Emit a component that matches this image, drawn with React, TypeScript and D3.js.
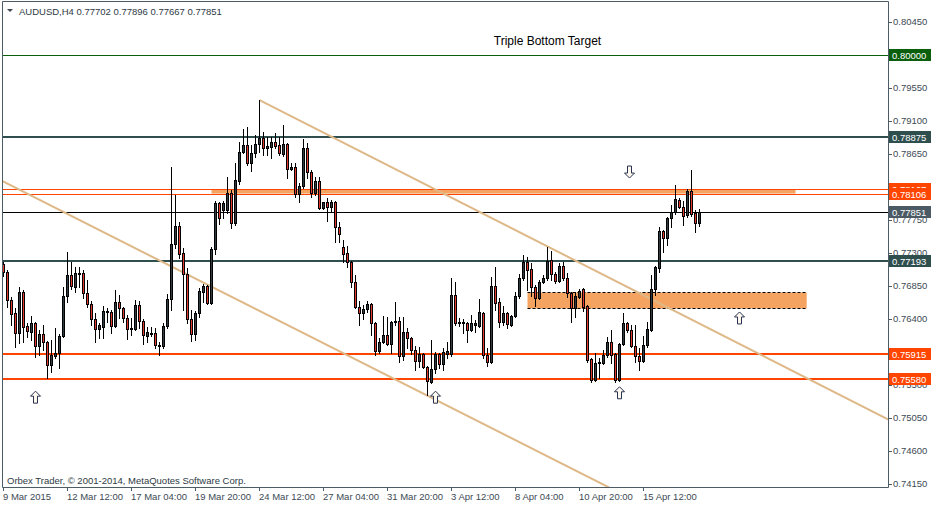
import { useRef, useEffect } from 'react';
import * as d3 from 'd3';

const symbol = 'AUDUSD,H4';
const lastQuote = ['0.77702', '0.77896', '0.77667', '0.77851'];
const copyright = 'Orbex Trader, © 2001-2014, MetaQuotes Software Corp.';
const noteText = 'Triple Bottom Target';

// H4 candles, oldest first (9 Mar 2015 20:00 ... 17 Apr 2015)
const opens = [
  0.7715, 0.7704, 0.7666, 0.7648, 0.7621, 0.7676, 0.763, 0.7622, 0.7634, 0.7603,
  0.7619, 0.7608, 0.7577, 0.7589, 0.7593, 0.7616, 0.7671, 0.77, 0.7683, 0.7701,
  0.7702, 0.7675, 0.766, 0.764, 0.7626, 0.7629, 0.7649, 0.7649, 0.763, 0.7663,
  0.7655, 0.7641, 0.7626, 0.7626, 0.7659, 0.7637, 0.7616, 0.7621, 0.7621, 0.7603,
  0.7603, 0.763, 0.7667, 0.7742, 0.7766, 0.773, 0.7701, 0.764, 0.7619, 0.7648,
  0.7676, 0.7685, 0.7661, 0.7735, 0.7798, 0.7788, 0.7788, 0.7811, 0.7771, 0.7828,
  0.7867, 0.7877, 0.7852, 0.7866, 0.7878, 0.7886, 0.7873, 0.7874, 0.7881, 0.7877,
  0.7865, 0.7878, 0.7844, 0.7847, 0.781, 0.7821, 0.7873, 0.784, 0.7811, 0.7828,
  0.7791, 0.7799, 0.7792, 0.7799, 0.7765, 0.7738, 0.773, 0.7717, 0.769, 0.7656,
  0.7648, 0.7653, 0.766, 0.7634, 0.7596, 0.7608, 0.7618, 0.7606, 0.7636, 0.7637,
  0.7589, 0.7622, 0.7614, 0.7597, 0.7582, 0.7592, 0.7574, 0.7554, 0.7571, 0.7592,
  0.7578, 0.7592, 0.7592, 0.7672, 0.7634, 0.7636, 0.7634, 0.7625, 0.7631, 0.763,
  0.7648, 0.7591, 0.7581, 0.7685, 0.7663, 0.7636, 0.7648, 0.7631, 0.7644, 0.7671,
  0.7696, 0.7717, 0.7708, 0.7683, 0.7668, 0.769, 0.7696, 0.772, 0.7701, 0.7691,
  0.7712, 0.7696, 0.7675, 0.7655, 0.767, 0.7681, 0.7657, 0.7585, 0.7556, 0.758,
  0.758, 0.7591, 0.7608, 0.7592, 0.7556, 0.7606, 0.7634, 0.7625, 0.7603, 0.7589,
  0.7582, 0.7604, 0.7625, 0.7681, 0.7709, 0.776, 0.775, 0.7777, 0.7786, 0.7802,
  0.7792, 0.7781, 0.7814, 0.7784, 0.77702,
];
const highs = [
  0.7717, 0.7706, 0.767, 0.7655, 0.7683, 0.7679, 0.7634, 0.7644, 0.7636, 0.7625,
  0.7631, 0.761, 0.7611, 0.7627, 0.7619, 0.7683, 0.7731, 0.7717, 0.7711, 0.7711,
  0.7706, 0.7693, 0.7664, 0.7648, 0.7634, 0.7657, 0.7655, 0.7652, 0.7679, 0.7672,
  0.7656, 0.7645, 0.7641, 0.7666, 0.7664, 0.764, 0.7629, 0.7629, 0.7627, 0.7608,
  0.7634, 0.7674, 0.7847, 0.7809, 0.7772, 0.7736, 0.7709, 0.7652, 0.7651, 0.7682,
  0.7687, 0.7686, 0.7738, 0.7801, 0.7799, 0.7801, 0.7833, 0.7816, 0.7852, 0.7881,
  0.7899, 0.7901, 0.7877, 0.7891, 0.7938, 0.7895, 0.7888, 0.7888, 0.7893, 0.7888,
  0.7904, 0.788, 0.7852, 0.7852, 0.7825, 0.7885, 0.788, 0.7843, 0.7833, 0.7833,
  0.7799, 0.7805, 0.7802, 0.7801, 0.7772, 0.7747, 0.7739, 0.7719, 0.77, 0.7664,
  0.7659, 0.7664, 0.7661, 0.7636, 0.7614, 0.7644, 0.7642, 0.7637, 0.7663, 0.7642,
  0.7642, 0.7627, 0.7615, 0.7603, 0.7601, 0.7593, 0.7576, 0.7611, 0.7595, 0.7593,
  0.76, 0.7608, 0.7696, 0.769, 0.7641, 0.764, 0.7636, 0.7645, 0.7638, 0.7667,
  0.7649, 0.76, 0.7697, 0.7711, 0.7668, 0.7657, 0.7649, 0.7645, 0.7676, 0.7701,
  0.7727, 0.7724, 0.7716, 0.7686, 0.7693, 0.77, 0.7738, 0.7732, 0.7704, 0.7716,
  0.7717, 0.7702, 0.7676, 0.7676, 0.7681, 0.7682, 0.7659, 0.7586, 0.7593, 0.7586,
  0.7597, 0.7615, 0.7625, 0.7593, 0.7607, 0.7648, 0.7636, 0.7631, 0.7631, 0.76,
  0.7616, 0.7636, 0.77, 0.7712, 0.7765, 0.7761, 0.7779, 0.7795, 0.7822, 0.7805,
  0.7801, 0.7817, 0.7843, 0.7788, 0.77896,
];
const lows = [
  0.7698, 0.7656, 0.7631, 0.7601, 0.7607, 0.7608, 0.7615, 0.7611, 0.7588, 0.7591,
  0.7597, 0.7559, 0.7567, 0.7586, 0.7573, 0.7615, 0.7663, 0.7681, 0.7676, 0.7683,
  0.7668, 0.7656, 0.7631, 0.7608, 0.7614, 0.7614, 0.7636, 0.7621, 0.7629, 0.7641,
  0.7636, 0.7612, 0.7618, 0.7625, 0.7627, 0.7606, 0.7608, 0.7616, 0.76, 0.7591,
  0.76, 0.7627, 0.7652, 0.7736, 0.7723, 0.7652, 0.7634, 0.761, 0.7611, 0.7642,
  0.7663, 0.766, 0.766, 0.7728, 0.7769, 0.7777, 0.7784, 0.7764, 0.7768, 0.7824,
  0.7866, 0.785, 0.7841, 0.7861, 0.7867, 0.7863, 0.7863, 0.7859, 0.7873, 0.7863,
  0.7862, 0.7832, 0.7843, 0.7806, 0.7799, 0.7818, 0.7832, 0.7806, 0.7809, 0.779,
  0.779, 0.7773, 0.7786, 0.7745, 0.7745, 0.7717, 0.7711, 0.7683, 0.7655, 0.7631,
  0.764, 0.7649, 0.7618, 0.7591, 0.7593, 0.7607, 0.7604, 0.7593, 0.7631, 0.7581,
  0.7584, 0.76, 0.7592, 0.757, 0.7574, 0.7573, 0.7536, 0.7552, 0.7566, 0.7573,
  0.757, 0.7586, 0.7589, 0.7631, 0.763, 0.7621, 0.7608, 0.7623, 0.7622, 0.7629,
  0.7586, 0.7576, 0.758, 0.7652, 0.7629, 0.7631, 0.7627, 0.763, 0.7642, 0.7668,
  0.7693, 0.7679, 0.7671, 0.7657, 0.7667, 0.7689, 0.7693, 0.7693, 0.7689, 0.769,
  0.7693, 0.767, 0.7636, 0.7642, 0.7668, 0.7651, 0.7581, 0.7554, 0.7555, 0.7559,
  0.7578, 0.7588, 0.758, 0.7554, 0.7555, 0.7604, 0.7622, 0.7601, 0.7581, 0.757,
  0.7581, 0.7601, 0.7623, 0.7672, 0.7704, 0.7731, 0.7741, 0.7765, 0.7783, 0.7791,
  0.7768, 0.7779, 0.778, 0.7758, 0.77667,
];
const closes = [
  0.7704, 0.7666, 0.7646, 0.7621, 0.7676, 0.7629, 0.7623, 0.7634, 0.7603, 0.7619,
  0.7608, 0.7577, 0.7591, 0.7593, 0.7616, 0.7671, 0.77, 0.7685, 0.7702, 0.7702,
  0.7675, 0.766, 0.764, 0.7626, 0.7631, 0.7651, 0.7651, 0.763, 0.7663, 0.7655,
  0.7641, 0.7626, 0.7627, 0.7659, 0.7637, 0.7618, 0.7622, 0.7621, 0.7604, 0.7604,
  0.763, 0.7667, 0.7742, 0.7766, 0.7728, 0.7701, 0.764, 0.7619, 0.7648, 0.7678,
  0.7685, 0.7661, 0.7735, 0.7798, 0.7777, 0.7798, 0.7811, 0.7771, 0.7829, 0.7867,
  0.7877, 0.7852, 0.7866, 0.7878, 0.7886, 0.7873, 0.7876, 0.7881, 0.7876, 0.7866,
  0.7878, 0.7844, 0.7847, 0.781, 0.7821, 0.7873, 0.784, 0.7811, 0.7828, 0.7791,
  0.7799, 0.7792, 0.7799, 0.7765, 0.7756, 0.7728, 0.7717, 0.769, 0.7656, 0.7648,
  0.7653, 0.766, 0.7634, 0.7596, 0.7608, 0.7618, 0.7606, 0.7636, 0.7637, 0.7589,
  0.7622, 0.7614, 0.7597, 0.7582, 0.7592, 0.7574, 0.7555, 0.7571, 0.7592, 0.7578,
  0.7595, 0.7596, 0.7672, 0.7634, 0.7636, 0.7635, 0.7625, 0.7634, 0.7634, 0.7649,
  0.7591, 0.7581, 0.7685, 0.7661, 0.7636, 0.7648, 0.7633, 0.7644, 0.7671, 0.7696,
  0.7717, 0.7706, 0.7683, 0.7668, 0.769, 0.7696, 0.7719, 0.7701, 0.7691, 0.7712,
  0.7696, 0.7675, 0.7655, 0.7671, 0.7678, 0.7656, 0.7584, 0.7556, 0.758, 0.7581,
  0.7591, 0.7608, 0.7591, 0.7556, 0.7606, 0.7634, 0.7625, 0.7603, 0.7589, 0.7582,
  0.7604, 0.7626, 0.7681, 0.7711, 0.776, 0.775, 0.7777, 0.7786, 0.7803, 0.7792,
  0.778, 0.7814, 0.7783, 0.7771, 0.77851,
];

const timeLabels = [
  '9 Mar 2015', '12 Mar 12:00', '17 Mar 04:00', '19 Mar 20:00', '24 Mar 12:00', '27 Mar 04:00',
  '31 Mar 20:00', '3 Apr 12:00', '8 Apr 04:00', '10 Apr 20:00', '15 Apr 12:00',
];
const timeLabelBars = [0, 16, 32, 48, 64, 80, 96, 112, 128, 144, 160];

const priceTicks = [
  0.8045, 0.8, 0.7955, 0.791, 0.7865, 0.782, 0.7775, 0.773, 0.7685, 0.764, 0.7595, 0.755, 0.7505,
  0.746, 0.7415,
];

// horizontal lines drawn on the chart
const levelPrices = [0.8, 0.78875, 0.78167, 0.78106, 0.77851, 0.77193, 0.75915, 0.7558];
const levelKinds = ['target', 'pivot', 'zone', 'zone', 'bid', 'pivot', 'support', 'support'];

const zoneBars = [52, 198];
const zonePrices = [0.78167, 0.78106];
const boxBars = [131, 200.8];
const boxPrices = [0.76768, 0.7655];

const channelTopBars = [64, 164];
const channelTopPrices = [0.7938, 0.7661];
const channelBottomBars = [0, 100];
const channelBottomPrices = [0.78268, 0.75514];

const upArrowBars = [8, 108, 154, 184];
const upArrowPrices = [0.7533, 0.7533, 0.7539, 0.7641];
const downArrowBars = [156.5];
const downArrowPrices = [0.784];

const noteBar = 136;
const notePrice = 0.8019;

const kindStyle: Record<string, { line: string; width: number; box: string }> = {
  target: { line: '#0b5e0b', width: 1, box: '#0b5e0b' },
  pivot: { line: '#2f4f4f', width: 2, box: '#2f4f4f' },
  zone: { line: '#ff4500', width: 1, box: '#ff4500' },
  bid: { line: '#000000', width: 1, box: '#4b5a64' },
  support: { line: '#ff4500', width: 2, box: '#ff4500' },
};

const App = () => {
  const svgRef = useRef<SVGSVGElement>(null);

  useEffect(() => {
    if (!svgRef.current) return;

    const width = 931;
    const height = 505;
    const left = 3;
    const right = 888;
    const top = 2;
    const bottom = 487;
    const font = 'Tahoma, "Liberation Sans", Arial, sans-serif';
    const axisColor = '#4d5b65';
    const fmt = d3.format('.5f');

    const svg = d3
      .select(svgRef.current)
      .attr('width', width)
      .attr('height', height)
      .attr('viewBox', [0, 0, width, height]);

    svg.selectAll('*').remove();

    const x = d3.scaleLinear().domain([0, 1]).range([3.5, 7.5]);
    const y = d3.scaleLinear().domain([0.7415, 0.8045]).range([483.7, 21.7]);

    svg.append('rect').attr('width', width).attr('height', height).attr('fill', '#fff');

    svg
      .append('defs')
      .append('clipPath')
      .attr('id', 'plot')
      .append('rect')
      .attr('x', left)
      .attr('y', top)
      .attr('width', right - left)
      .attr('height', bottom - top);

    const plot = svg.append('g').attr('clip-path', 'url(#plot)');

    // background objects
    plot
      .append('rect')
      .attr('x', x(zoneBars[0]))
      .attr('y', y(zonePrices[0]))
      .attr('width', x(zoneBars[1]) - x(zoneBars[0]))
      .attr('height', y(zonePrices[1]) - y(zonePrices[0]))
      .attr('fill', '#f4a460');

    const bx0 = x(boxBars[0]);
    const bx1 = x(boxBars[1]);
    const by0 = Math.round(y(boxPrices[0])) + 0.5;
    const by1 = Math.round(y(boxPrices[1])) + 0.5;
    plot
      .append('rect')
      .attr('x', bx0)
      .attr('y', by0)
      .attr('width', bx1 - bx0)
      .attr('height', by1 - by0)
      .attr('fill', '#f4a460');
    [by0, by1].forEach((yy) =>
      plot
        .append('line')
        .attr('x1', bx0)
        .attr('x2', bx1)
        .attr('y1', yy)
        .attr('y2', yy)
        .attr('stroke', '#000')
        .attr('stroke-dasharray', '3,2'),
    );

    // horizontal levels
    levelPrices.forEach((p, i) => {
      const st = kindStyle[levelKinds[i]];
      const yy = st.width === 1 ? Math.round(y(p)) + 0.5 : Math.round(y(p));
      plot
        .append('line')
        .attr('x1', left)
        .attr('x2', right)
        .attr('y1', yy)
        .attr('y2', yy)
        .attr('stroke', st.line)
        .attr('stroke-width', st.width);
    });

    // channel trend lines
    const trend = (bars: number[], prices: number[], from: number, to: number) => {
      const slope = (prices[1] - prices[0]) / (bars[1] - bars[0]);
      const at = (b: number) => prices[0] + (b - bars[0]) * slope;
      plot
        .append('line')
        .attr('x1', x(from))
        .attr('y1', y(at(from)))
        .attr('x2', x(to))
        .attr('y2', y(at(to)))
        .attr('stroke', '#deb887')
        .attr('stroke-width', 2);
    };
    trend(channelTopBars, channelTopPrices, channelTopBars[0], 225);
    trend(channelBottomBars, channelBottomPrices, -2, 180);

    // candles
    const candles = plot.append('g');
    opens.forEach((o, i) => {
      const c = closes[i];
      const cx = x(i);
      candles
        .append('line')
        .attr('x1', cx)
        .attr('x2', cx)
        .attr('y1', Math.round(y(highs[i])))
        .attr('y2', Math.round(y(lows[i])) + 1)
        .attr('stroke', '#000');
      const t = Math.round(y(Math.max(o, c)));
      const b = Math.round(y(Math.min(o, c)));
      candles
        .append('rect')
        .attr('x', cx - 1)
        .attr('y', t + 0.5)
        .attr('width', 2)
        .attr('height', Math.max(b - t, 1))
        .attr('fill', c >= o ? '#303b41' : '#e2392f')
        .attr('stroke', '#000');
    });

    // arrows
    const arrow = (bar: number, price: number, up: boolean) => {
      const ax = x(bar);
      const ay = y(price);
      const s = up ? 1 : -1;
      const pts: [number, number][] = [
        [0, -6], [5, -1], [2, -1], [2, 6], [-2, 6], [-2, -1], [-5, -1],
      ];
      plot
        .append('path')
        .attr('d', 'M' + pts.map(([px, py]) => `${ax + px},${ay + s * py}`).join('L') + 'Z')
        .attr('fill', '#fff8ee')
        .attr('stroke', '#26304f')
        .attr('stroke-width', 1);
    };
    upArrowBars.forEach((b, i) => arrow(b, upArrowPrices[i], true));
    downArrowBars.forEach((b, i) => arrow(b, downArrowPrices[i], false));

    plot
      .append('text')
      .attr('x', x(noteBar))
      .attr('y', y(notePrice) + 4.5)
      .attr('text-anchor', 'middle')
      .style('font-family', font)
      .style('font-size', '12px')
      .attr('fill', '#000')
      .text(noteText);

    // frame
    svg
      .append('path')
      .attr('d', `M${left - 0.5},${top - 0.5}H${right + 0.5}V${bottom + 0.5}H${left - 0.5}Z`)
      .attr('fill', 'none')
      .attr('stroke', axisColor);

    // header and footer texts
    svg
      .append('path')
      .attr('d', 'M7,9H13L10,12Z')
      .attr('fill', '#3a4650');
    svg
      .append('text')
      .attr('x', 19)
      .attr('y', 14.5)
      .style('font-family', font)
      .style('font-size', '9.5px')
      .attr('fill', '#2e3a44')
      .text(`${symbol}  ${lastQuote.join(' ')}`);
    svg
      .append('text')
      .attr('x', 7)
      .attr('y', 483.5)
      .style('font-family', font)
      .style('font-size', '9.5px')
      .attr('fill', '#2e3a44')
      .text(copyright);

    // price axis; a tick label that sits right under a level label is hidden by it
    const yAxis = svg.append('g');
    priceTicks.forEach((t) => {
      const yy = Math.round(y(t)) + 0.5;
      yAxis
        .append('line')
        .attr('x1', right)
        .attr('x2', right + 4)
        .attr('y1', yy)
        .attr('y2', yy)
        .attr('stroke', axisColor);
      const covered = levelPrices.some((p) => Math.abs(y(p) - y(t)) < 3.5);
      if (covered) return;
      yAxis
        .append('text')
        .attr('x', 893)
        .attr('y', y(t) + 3.5)
        .style('font-family', font)
        .style('font-size', '9.5px')
        .attr('fill', '#3d4a54')
        .text(fmt(t));
    });

    levelPrices.forEach((p, i) => {
      const st = kindStyle[levelKinds[i]];
      const yy = Math.round(y(p));
      yAxis
        .append('rect')
        .attr('x', 889)
        .attr('y', yy - 6)
        .attr('width', 42)
        .attr('height', 12)
        .attr('fill', st.box);
      yAxis
        .append('text')
        .attr('x', 892)
        .attr('y', yy + 3.5)
        .style('font-family', font)
        .style('font-size', '9.5px')
        .attr('fill', '#fff')
        .text(fmt(p));
    });

    // time axis
    timeLabels.forEach((label, i) => {
      const tx = x(timeLabelBars[i]);
      svg
        .append('line')
        .attr('x1', tx)
        .attr('x2', tx)
        .attr('y1', bottom)
        .attr('y2', bottom + 4)
        .attr('stroke', axisColor);
      svg
        .append('text')
        .attr('x', tx - 0.5)
        .attr('y', 499.5)
        .style('font-family', font)
        .style('font-size', '9.5px')
        .attr('fill', '#3d4a54')
        .text(label);
    });
  }, []);

  return (
    <div style={{ position: 'absolute', left: 0, top: 0 }}>
      <svg ref={svgRef} style={{ display: 'block' }}></svg>
    </div>
  );
};

export default App;
